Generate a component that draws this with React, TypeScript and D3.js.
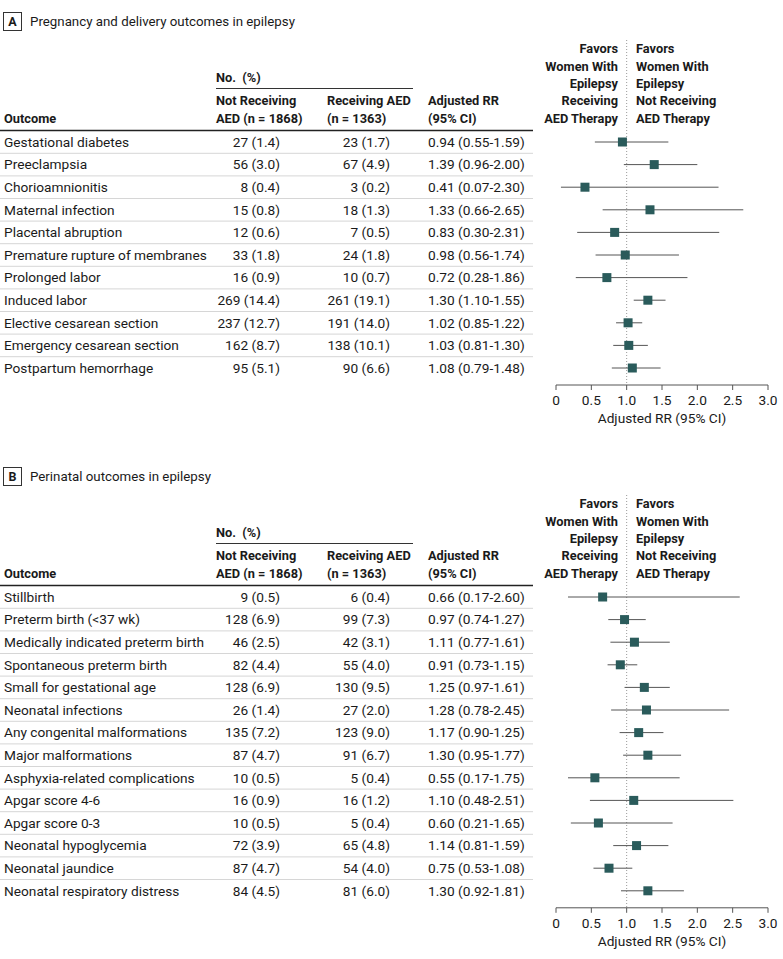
import React from 'react';
import * as d3 from 'd3';

const outcomesA = [
  'Gestational diabetes', 'Preeclampsia', 'Chorioamnionitis', 'Maternal infection',
  'Placental abruption', 'Premature rupture of membranes', 'Prolonged labor', 'Induced labor',
  'Elective cesarean section', 'Emergency cesarean section', 'Postpartum hemorrhage',
];
const notRecvA = ['27 (1.4)', '56 (3.0)', '8 (0.4)', '15 (0.8)', '12 (0.6)', '33 (1.8)', '16 (0.9)', '269 (14.4)', '237 (12.7)', '162 (8.7)', '95 (5.1)'];
const recvA = ['23 (1.7)', '67 (4.9)', '3 (0.2)', '18 (1.3)', '7 (0.5)', '24 (1.8)', '10 (0.7)', '261 (19.1)', '191 (14.0)', '138 (10.1)', '90 (6.6)'];
const rrTextA = ['0.94 (0.55-1.59)', '1.39 (0.96-2.00)', '0.41 (0.07-2.30)', '1.33 (0.66-2.65)', '0.83 (0.30-2.31)', '0.98 (0.56-1.74)', '0.72 (0.28-1.86)', '1.30 (1.10-1.55)', '1.02 (0.85-1.22)', '1.03 (0.81-1.30)', '1.08 (0.79-1.48)'];
const rrA = [0.94, 1.39, 0.41, 1.33, 0.83, 0.98, 0.72, 1.30, 1.02, 1.03, 1.08];
const loA = [0.55, 0.96, 0.07, 0.66, 0.30, 0.56, 0.28, 1.10, 0.85, 0.81, 0.79];
const hiA = [1.59, 2.00, 2.30, 2.65, 2.31, 1.74, 1.86, 1.55, 1.22, 1.30, 1.48];

const outcomesB = [
  'Stillbirth', 'Preterm birth (<37 wk)', 'Medically indicated preterm birth', 'Spontaneous preterm birth',
  'Small for gestational age', 'Neonatal infections', 'Any congenital malformations', 'Major malformations',
  'Asphyxia-related complications', 'Apgar score 4-6', 'Apgar score 0-3', 'Neonatal hypoglycemia',
  'Neonatal jaundice', 'Neonatal respiratory distress',
];
const notRecvB = ['9 (0.5)', '128 (6.9)', '46 (2.5)', '82 (4.4)', '128 (6.9)', '26 (1.4)', '135 (7.2)', '87 (4.7)', '10 (0.5)', '16 (0.9)', '10 (0.5)', '72 (3.9)', '87 (4.7)', '84 (4.5)'];
const recvB = ['6 (0.4)', '99 (7.3)', '42 (3.1)', '55 (4.0)', '130 (9.5)', '27 (2.0)', '123 (9.0)', '91 (6.7)', '5 (0.4)', '16 (1.2)', '5 (0.4)', '65 (4.8)', '54 (4.0)', '81 (6.0)'];
const rrTextB = ['0.66 (0.17-2.60)', '0.97 (0.74-1.27)', '1.11 (0.77-1.61)', '0.91 (0.73-1.15)', '1.25 (0.97-1.61)', '1.28 (0.78-2.45)', '1.17 (0.90-1.25)', '1.30 (0.95-1.77)', '0.55 (0.17-1.75)', '1.10 (0.48-2.51)', '0.60 (0.21-1.65)', '1.14 (0.81-1.59)', '0.75 (0.53-1.08)', '1.30 (0.92-1.81)'];
const rrB = [0.66, 0.97, 1.11, 0.91, 1.25, 1.28, 1.17, 1.30, 0.55, 1.10, 0.60, 1.14, 0.75, 1.30];
const loB = [0.17, 0.74, 0.77, 0.73, 0.97, 0.78, 0.90, 0.95, 0.17, 0.48, 0.21, 0.81, 0.53, 0.92];
const hiB = [2.60, 1.27, 1.61, 1.15, 1.61, 2.45, 1.52, 1.77, 1.75, 2.51, 1.65, 1.59, 1.08, 1.81];

const tickValues = [0, 0.5, 1.0, 1.5, 2.0, 2.5, 3.0];
const tickLabels = ['0', '0.5', '1.0', '1.5', '2.0', '2.5', '3.0'];
const favorsLeft = ['Favors', 'Women With', 'Epilepsy', 'Receiving', 'AED Therapy'];
const favorsRight = ['Favors', 'Women With', 'Epilepsy', 'Not Receiving', 'AED Therapy'];

const FONT = 'Roboto, "Noto Sans", sans-serif';
const FS = 13.7;
const FSB = 12.8;
const TEXT = '#1a1a1a';
const MARK = '#2a5b5b';

const x = d3.scaleLinear().domain([0, 3]).range([556, 768]);

type PanelProps = {
  y0: number; letter: string; title: string;
  outcomes: string[]; notRecv: string[]; recv: string[]; rrText: string[];
  rr: number[]; lo: number[]; hi: number[];
};

function Panel(p: PanelProps) {
  const n = p.outcomes.length;
  const rowStep = 22.6;
  const firstRow = p.y0 + 142;
  const y = d3.scalePoint<number>().domain(d3.range(n)).range([firstRow, firstRow + (n - 1) * rowStep]);
  const axisY = firstRow + (n - 1) * rowStep + 17;
  const hdr = (k: number) => p.y0 + 49 + k * 17.3;
  return (
    <g>
      <rect x={3.5} y={p.y0 + 12.5} width={18} height={18} fill="white" stroke="#333" strokeWidth={1} />
      <text x={12.5} y={p.y0 + 21.5} dy="0.35em" textAnchor="middle" fontWeight="bold" fontSize={12.5} fill={TEXT}>{p.letter}</text>
      <text x={30} y={p.y0 + 21.5} dy="0.35em" fontSize={13.3} fill={TEXT}>{p.title}</text>

      <text x={216} y={p.y0 + 78} dy="0.35em" fontWeight="bold" fontSize={FSB} fill={TEXT} style={{ whiteSpace: 'pre' }}>No.  (%)</text>
      <line x1={216} x2={413} y1={p.y0 + 88.5} y2={p.y0 + 88.5} stroke="#333" strokeWidth={1} />
      <text x={4} y={hdr(4)} dy="0.35em" fontWeight="bold" fontSize={FSB} fill={TEXT}>Outcome</text>
      <text x={216} y={hdr(3)} dy="0.35em" fontWeight="bold" fontSize={FSB} fill={TEXT}>Not Receiving</text>
      <text x={216} y={hdr(4)} dy="0.35em" fontWeight="bold" fontSize={FSB} fill={TEXT}>AED (n = 1868)</text>
      <text x={327} y={hdr(3)} dy="0.35em" fontWeight="bold" fontSize={FSB} fill={TEXT}>Receiving AED</text>
      <text x={327} y={hdr(4)} dy="0.35em" fontWeight="bold" fontSize={FSB} fill={TEXT}>(n = 1363)</text>
      <text x={428} y={hdr(3)} dy="0.35em" fontWeight="bold" fontSize={FSB} fill={TEXT}>Adjusted RR</text>
      <text x={428} y={hdr(4)} dy="0.35em" fontWeight="bold" fontSize={FSB} fill={TEXT}>(95% CI)</text>
      <line x1={0} x2={533} y1={p.y0 + 130.5} y2={p.y0 + 130.5} stroke="#222" strokeWidth={1.5} />

      {favorsLeft.map((t, k) => (
        <text key={'fl' + k} x={618} y={hdr(k)} dy="0.35em" textAnchor="end" fontWeight="bold" fontSize={FSB} fill={TEXT}>{t}</text>
      ))}
      {favorsRight.map((t, k) => (
        <text key={'fr' + k} x={636} y={hdr(k)} dy="0.35em" fontWeight="bold" fontSize={FSB} fill={TEXT}>{t}</text>
      ))}

      <line x1={x(1)} x2={x(1)} y1={p.y0 + 40} y2={axisY} stroke="#999" strokeWidth={1} strokeDasharray="1,2" />

      {p.outcomes.map((o, i) => (
        <g key={o}>
          {i < n - 1 && (
            <line x1={0} x2={533} y1={y(i)! + rowStep / 2} y2={y(i)! + rowStep / 2} stroke="#d6d6d6" strokeWidth={1} />
          )}
          <text x={4} y={y(i)} dy="0.35em" fontSize={FS} fill={TEXT}>{o}</text>
          <text x={280} y={y(i)} dy="0.35em" textAnchor="end" fontSize={FS} fill={TEXT}>{p.notRecv[i]}</text>
          <text x={390} y={y(i)} dy="0.35em" textAnchor="end" fontSize={FS} fill={TEXT}>{p.recv[i]}</text>
          <text x={428} y={y(i)} dy="0.35em" fontSize={FS} fill={TEXT}>{p.rrText[i]}</text>
          <line x1={x(p.lo[i])} x2={x(p.hi[i])} y1={y(i)} y2={y(i)} stroke="#555" strokeWidth={1} />
          <rect x={x(p.rr[i]) - 4.5} y={y(i)! - 4.5} width={9} height={9} fill={MARK} />
        </g>
      ))}

      <line x1={x(0)} x2={x(3)} y1={axisY} y2={axisY} stroke="#555" strokeWidth={1} />
      {tickValues.map((v, k) => (
        <g key={'t' + k}>
          <line x1={x(v)} x2={x(v)} y1={axisY} y2={axisY + 5} stroke="#555" strokeWidth={1} />
          <text x={x(v)} y={axisY + 15} dy="0.35em" textAnchor="middle" fontSize={FS} fill={TEXT}>{tickLabels[k]}</text>
        </g>
      ))}
      <text x={(x(0) + x(3)) / 2} y={axisY + 33} dy="0.35em" textAnchor="middle" fontSize={FS} fill={TEXT}>Adjusted RR (95% CI)</text>
    </g>
  );
}

export default function App() {
  return (
    <svg width={783} height={959} style={{ position: 'absolute', left: 0, top: 0, background: 'white' }} fontFamily={FONT}>
      <rect width={783} height={959} fill="white" />
      <Panel y0={0} letter="A" title="Pregnancy and delivery outcomes in epilepsy"
        outcomes={outcomesA} notRecv={notRecvA} recv={recvA} rrText={rrTextA} rr={rrA} lo={loA} hi={hiA} />
      <Panel y0={455} letter="B" title="Perinatal outcomes in epilepsy"
        outcomes={outcomesB} notRecv={notRecvB} recv={recvB} rrText={rrTextB} rr={rrB} lo={loB} hi={hiB} />
    </svg>
  );
}
